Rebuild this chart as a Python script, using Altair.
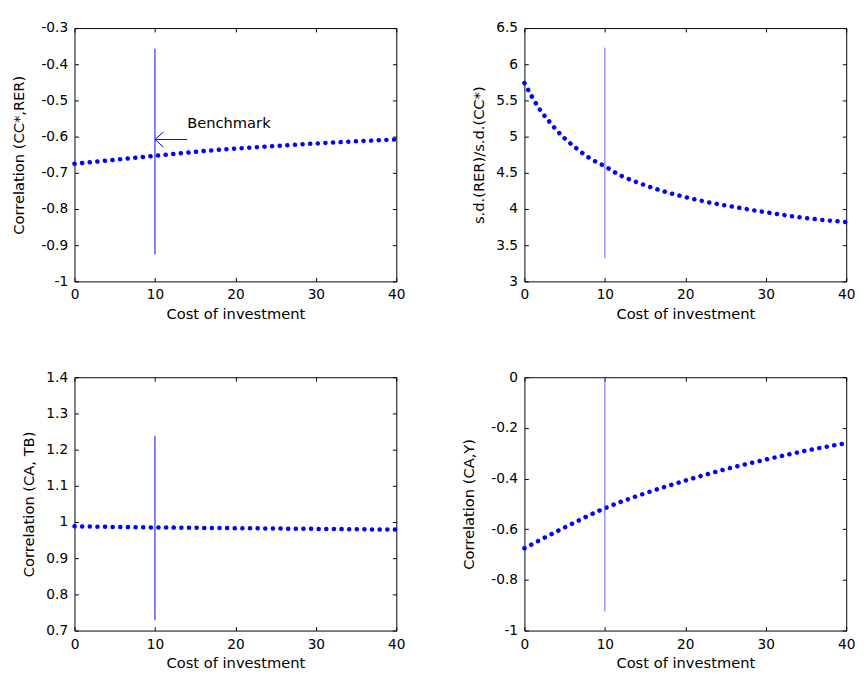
import altair as alt
import pandas as pd

X_TICKS = [0, 10, 20, 30, 40]
X_TITLE = "Cost of investment"

# Panel 1: Correlation (CC*,RER)
p1_x = [0, 5, 10, 15, 20, 25, 30, 35, 40]
p1_y = [-0.675, -0.664, -0.653, -0.642, -0.633, -0.626, -0.619, -0.613, -0.608]
p1_ticks = [-1, -0.9, -0.8, -0.7, -0.6, -0.5, -0.4, -0.3]
p1_vline = [-0.925, -0.357]

# Panel 2: s.d.(RER)/s.d.(CC*)
p2_x = [0, 1, 2, 3, 4, 5, 6, 8, 10, 12, 14, 16, 18, 20, 23, 26, 30, 34, 37, 40]
p2_y = [5.74, 5.54, 5.36, 5.22, 5.09, 4.975, 4.88, 4.71, 4.59, 4.46, 4.37, 4.29,
        4.222, 4.165, 4.09, 4.03, 3.955, 3.89, 3.85, 3.82]
p2_ticks = [3, 3.5, 4, 4.5, 5, 5.5, 6, 6.5]
p2_vline = [3.32, 6.23]

# Panel 3: Correlation (CA, TB)
p3_x = [0, 10, 20, 30, 40]
p3_y = [0.988, 0.985, 0.983, 0.981, 0.979]
p3_ticks = [0.7, 0.8, 0.9, 1, 1.1, 1.2, 1.3, 1.4]
p3_vline = [0.729, 1.238]

# Panel 4: Correlation (CA,Y)
p4_x = [0, 5, 10, 15, 20, 25, 30, 35, 40]
p4_y = [-0.675, -0.593, -0.517, -0.458, -0.408, -0.363, -0.325, -0.290, -0.260]
p4_ticks = [-1, -0.8, -0.6, -0.4, -0.2, 0]
p4_vline = [-0.925, 0]

# Benchmark annotation (panel 1)
arrow_x = [14, 10, 10]
arrow_y = [-0.608, -0.608, -0.608]
arrow_x2 = [10, 11.07, 11.07]
arrow_y2 = [-0.608, -0.587, -0.629]
label_text = ["Benchmark"]
label_x = [14.0]
label_y = [-0.576]

BLUE = "#0000ff"
W, H = 329, 259
FONT = "DejaVu Sans"


def tick_axis(orient, values):
    return alt.Axis(orient=orient, values=values, labels=False, title=None,
                    domain=False, ticks=True, tickSize=4, offset=-4,
                    tickColor="black", tickWidth=1, grid=False)


def panel(xs, ys, yticks, ytitle, vline, title_pad, rule_color=BLUE, extra=None):
    xsc = alt.Scale(domain=[0, 40], nice=False, zero=False)
    ysc = alt.Scale(domain=[yticks[0], yticks[-1]], nice=False, zero=False)
    df = pd.DataFrame({"x": xs, "y": ys})
    line = alt.Chart(df).mark_line(
        color=BLUE, strokeWidth=4.6, strokeCap="round", strokeDash=[0.1, 7.7],
        interpolate="monotone"
    ).encode(
        x=alt.X("x:Q", scale=xsc, axis=alt.Axis(
            orient="bottom", values=X_TICKS, title=X_TITLE, ticks=False,
            tickSize=0, domain=False, grid=False, labelPadding=7,
            labelFlush=False, labelOverlap=False,
            titlePadding=5, labelExpr="datum.value + ''")),
        y=alt.Y("y:Q", scale=ysc, axis=alt.Axis(
            orient="left", values=yticks, title=ytitle, ticks=False,
            tickSize=0, domain=False, grid=False, labelPadding=7,
            labelFlush=False, labelOverlap=False,
            titlePadding=title_pad, labelExpr="datum.value + ''")),
    )
    vdf = pd.DataFrame({"x": [10], "y": [vline[0]], "y2": [vline[1]]})
    rule = alt.Chart(vdf).mark_rule(color=rule_color, strokeWidth=1).encode(
        x=alt.X("x:Q", scale=xsc, axis=tick_axis("bottom", X_TICKS)),
        y=alt.Y("y:Q", scale=ysc, axis=tick_axis("left", yticks)),
        y2="y2:Q",
    )
    ticks2 = alt.Chart(vdf).mark_rule(opacity=0).encode(
        x=alt.X("x:Q", scale=xsc, axis=tick_axis("top", X_TICKS)),
        y=alt.Y("y:Q", scale=ysc, axis=tick_axis("right", yticks)),
        y2="y2:Q",
    )
    layers = [line, rule, ticks2]
    if extra:
        for e in extra:
            layers.append(e(xsc, ysc))
    return alt.layer(*layers).resolve_axis(
        x="independent", y="independent").properties(width=W, height=H)


def arrow_layer(xsc, ysc):
    adf = pd.DataFrame({"x": arrow_x, "y": arrow_y, "x2": arrow_x2, "y2": arrow_y2})
    return alt.Chart(adf).mark_rule(color=BLUE, strokeWidth=1).encode(
        x=alt.X("x:Q", scale=xsc, axis=None),
        y=alt.Y("y:Q", scale=ysc, axis=None),
        x2="x2:Q", y2="y2:Q",
    )


def text_layer(xsc, ysc):
    tdf = pd.DataFrame({"x": label_x, "y": label_y, "t": label_text})
    return alt.Chart(tdf).mark_text(
        align="left", baseline="alphabetic", font=FONT, fontSize=15, color="black"
    ).encode(
        x=alt.X("x:Q", scale=xsc, axis=None),
        y=alt.Y("y:Q", scale=ysc, axis=None),
        text="t:N",
    )


c1 = panel(p1_x, p1_y, p1_ticks, "Correlation (CC*,RER)", p1_vline, 15,
           extra=[arrow_layer, text_layer])
c2 = panel(p2_x, p2_y, p2_ticks, "s.d.(RER)/s.d.(CC*)", p2_vline, 10,
           rule_color="#6060ff")
c3 = panel(p3_x, p3_y, p3_ticks, "Correlation (CA, TB)", p3_vline, 10)
c4 = panel(p4_x, p4_y, p4_ticks, "Correlation (CA,Y)", p4_vline, 15,
           rule_color="#6060ff")

chart = alt.concat(c1, c2, c3, c4, columns=2, spacing={"row": 48, "column": 56}).properties(
    padding={"left": 3, "top": 5, "right": 0, "bottom": 0}
).configure_view(
    stroke="black", strokeWidth=1
).configure_axis(
    labelFont=FONT, labelFontSize=14, labelColor="black",
    titleFont=FONT, titleFontSize=15, titleFontWeight="normal", titleColor="black",
    grid=False
)

chart.save("out.html", embed_options={"renderer": "svg", "actions": False})
